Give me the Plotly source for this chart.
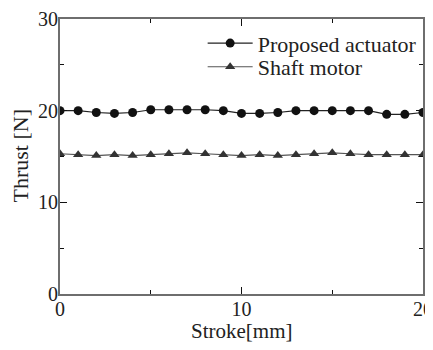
import plotly.graph_objects as go

stroke = list(range(0, 21))
proposed = [20.0, 20.0, 19.8, 19.7, 19.8, 20.1, 20.1, 20.1, 20.1, 20.0, 19.7,
            19.7, 19.8, 20.0, 20.0, 20.0, 20.0, 20.0, 19.6, 19.6, 19.8]
shaft = [15.3, 15.2, 15.1, 15.2, 15.1, 15.2, 15.3, 15.4, 15.3, 15.2, 15.1,
         15.2, 15.1, 15.2, 15.3, 15.4, 15.3, 15.2, 15.2, 15.2, 15.2]

FONT = "Liberation Serif, Times New Roman, serif"
TXT = "#222222"

fig = go.Figure()
fig.add_trace(go.Scatter(x=stroke, y=proposed, mode="lines+markers", name="Proposed actuator",
                         legend="legend", showlegend=True,
                         line=dict(color="#222222", width=1.2),
                         marker=dict(symbol="circle", size=9, color="#111111")))
fig.add_trace(go.Scatter(x=stroke, y=shaft, mode="lines+markers", name="Shaft motor",
                         legend="legend2", showlegend=True,
                         line=dict(color="#555555", width=1.2),
                         marker=dict(symbol="triangle-up", size=9, color="#333333")))

axis_common = dict(showgrid=False, zeroline=False, showline=True, linecolor="#6e6e6e", linewidth=2,
                   mirror="allticks", ticks="inside", ticklen=7, tickcolor="#111111", tickwidth=1,
                   automargin=False,
                   tickfont=dict(family=FONT, size=20, color=TXT))

fig.update_xaxes(range=[0, 20], tickvals=[0, 10, 20], ticktext=["0", "10", "20"],
                 minor=dict(tickvals=[5, 15], ticks="inside", ticklen=4, tickcolor="#111111"),
                 ticklabelstandoff=-4,
                 **axis_common)
fig.update_yaxes(range=[0, 30], tickvals=[0, 10, 20, 30], ticktext=["0", "10", "20", "30"],
                 minor=dict(tickvals=[5, 15, 25], ticks="inside", ticklen=4, tickcolor="#111111"),
                 ticklabelstandoff=-4,
                 **axis_common)

# axis titles as annotations for exact placement
fig.add_annotation(text="Stroke[mm]", xref="paper", yref="paper", x=0.5, y=0, yshift=-37,
                   xanchor="center", yanchor="middle", showarrow=False,
                   font=dict(family=FONT, size=21, color=TXT))
fig.add_annotation(text="Thrust [N]", xref="paper", yref="paper", x=0, y=0.5, xshift=-40,
                   xanchor="center", yanchor="middle", textangle=-90, showarrow=False,
                   font=dict(family=FONT, size=22, color=TXT))

leg = dict(xanchor="left", yanchor="top", bgcolor="rgba(0,0,0,0)",
           font=dict(family=FONT, size=22, color=TXT), itemwidth=45)

# page body has an 8px default margin; figure sized to compensate
fig.update_layout(width=425, height=342, margin=dict(l=52, r=10, t=11, b=56),
                  plot_bgcolor="white", paper_bgcolor="white", showlegend=True,
                  font=dict(family=FONT, size=20, color=TXT),
                  legend=dict(x=0.393, y=0.988, **leg),
                  legend2=dict(x=0.393, y=0.902, **leg))

fig.write_html("out.html")
